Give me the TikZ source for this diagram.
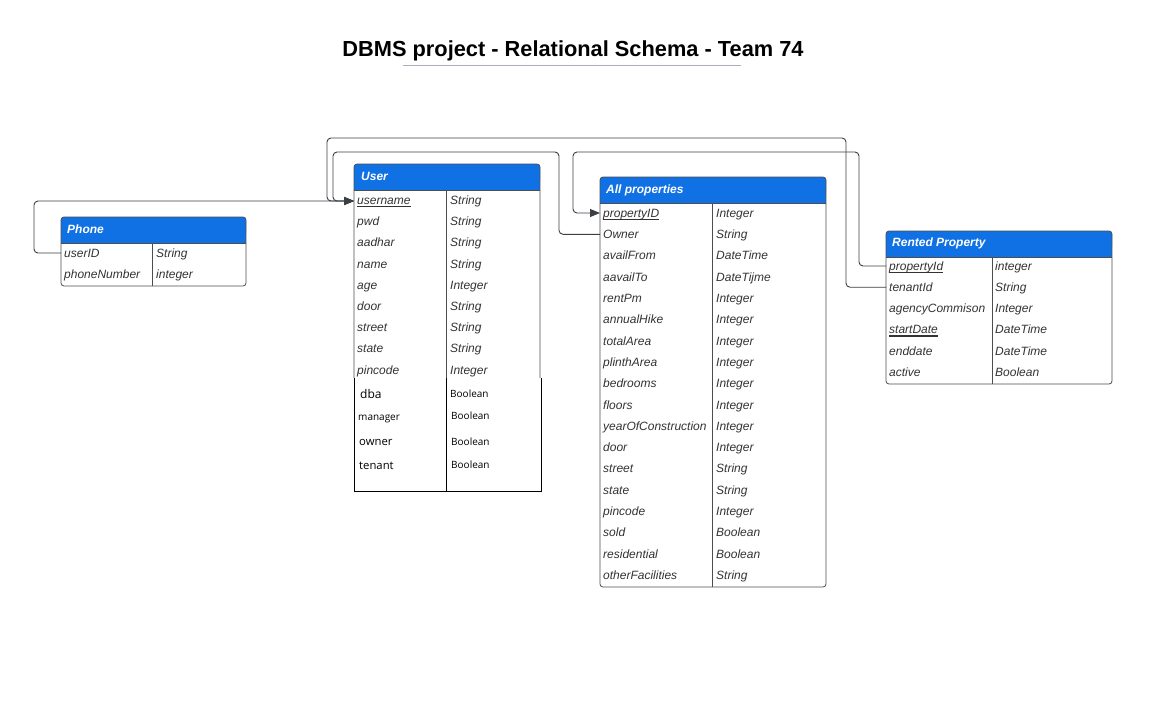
\documentclass[tikz,border=0pt]{standalone}
\usepackage{fontspec}
\setmainfont{Liberation Sans}
\newfontfamily\boolfont{Open Sans}
\usetikzlibrary{arrows.meta}
\definecolor{hdrblue}{HTML}{1071E5}
\definecolor{txt}{HTML}{333333}
\definecolor{bord}{HTML}{4D4D4D}
\definecolor{connc}{HTML}{3A3F46}
\definecolor{titleline}{HTML}{A9B0BC}
\tikzset{
  cell/.style={anchor=base west, inner sep=0pt, text=txt, font=\fontsize{12}{14}\selectfont\itshape},
  hdrtext/.style={anchor=base west, inner sep=0pt, text=white, font=\fontsize{12}{14}\selectfont\bfseries\itshape},
  rowbox/.style={anchor=west, inner sep=0pt, minimum height=21pt, draw=none},
  tblborder/.style={draw=bord, line width=0.8pt},
  conn/.style={draw=connc, line width=0.9pt, rounded corners=4pt},
  arr/.style={-{Triangle[length=10pt,width=8pt]}},
  ulin/.style={draw=txt, line width=1.3pt},
  boolt/.style={anchor=base west, inner sep=0pt, text=black},
}
\begin{document}
\begin{tikzpicture}[x=1pt,y=-1pt]
\useasboundingbox[fill=white] (0,0) rectangle (1160,721);

% Title
\node[anchor=base, inner sep=0pt, font=\fontsize{21.8}{24}\selectfont\bfseries] (title) at (573,56.5) {DBMS project - Relational Schema - Team 74};
\draw[titleline, line width=0.9pt] (403,65) -- (741,65);

% ---------- Phone ----------
\fill[hdrblue, rounded corners=3pt] (61,217) rectangle (246,236);
\fill[hdrblue] (61,230) rectangle (246,243);
\draw[tblborder, rounded corners=3pt] (61,217) rectangle (246,286);
\draw[tblborder] (61,243) -- (246,243) (152,243) -- (152,286);
\node[hdrtext] (phone-h) at (67,233.3) {Phone};
\foreach \n/\t [count=\i from 0] in {userID/String, phoneNumber/integer} {
  \node[rowbox, minimum width=185pt] (ph-\i) at (61,{253+21.2*\i}) {};
  \node[cell] (ph-\i-n) at (64,{257.3+21.2*\i}) {\n};
  \node[cell] (ph-\i-t) at (156,{257.3+21.2*\i}) {\t};
}

% ---------- User ----------
\fill[hdrblue, rounded corners=3pt] (354,164) rectangle (540,183);
\fill[hdrblue] (354,177) rectangle (540,190);
\draw[tblborder, rounded corners=3pt] (354,378) -- (354,164) -- (540,164) -- (540,378);
\draw[tblborder] (354,190) -- (540,190) (446,190) -- (446,378);
\draw[black, line width=0.9pt] (354,378) -- (354,491) -- (541,491) -- (541,378) (446,378) -- (446,491);
\node[hdrtext] (user-h) at (361,180.3) {User};
\foreach \n/\t [count=\i from 0] in {username/String, pwd/String, aadhar/String, name/String, age/Integer, door/String, street/String, state/String, pincode/Integer} {
  \node[rowbox, minimum width=186pt] (user-\i) at (354,{201+21.2*\i}) {};
  \node[cell] (user-\i-n) at (357,{204.5+21.2*\i}) {\n};
  \node[cell] (user-\i-t) at (450,{204.5+21.2*\i}) {\t};
}
\draw[ulin] ([yshift=-2.2pt]user-0-n.base west) -- ([yshift=-2.2pt]user-0-n.base east);
\node[boolt, font=\boolfont\fontsize{12}{14}\selectfont] (u-dba) at (360,398.5) {dba};
\node[boolt, font=\boolfont\fontsize{10}{12}\selectfont] (u-manager) at (358,420.5) {manager};
\node[boolt, font=\boolfont\fontsize{11.3}{13}\selectfont] (u-owner) at (359,445) {owner};
\node[boolt, font=\boolfont\fontsize{11.3}{13}\selectfont] (u-tenant) at (359,469) {tenant};
\node[boolt, font=\boolfont\fontsize{10}{12}\selectfont] (u-dba-t) at (450,397) {Boolean};
\node[boolt, font=\boolfont\fontsize{10}{12}\selectfont] (u-manager-t) at (451,419) {Boolean};
\node[boolt, font=\boolfont\fontsize{10}{12}\selectfont] (u-owner-t) at (451,445) {Boolean};
\node[boolt, font=\boolfont\fontsize{10}{12}\selectfont] (u-tenant-t) at (451,468) {Boolean};

% ---------- All properties ----------
\fill[hdrblue, rounded corners=3pt] (600,177) rectangle (826,196);
\fill[hdrblue] (600,190) rectangle (826,203);
\draw[tblborder, rounded corners=3pt] (600,177) rectangle (826,587);
\draw[tblborder] (600,203) -- (826,203) (712,203) -- (712,587);
\node[hdrtext] (prop-h) at (606,193.3) {All properties};
\foreach \n/\t [count=\i from 0] in {propertyID/Integer, Owner/String, availFrom/DateTime, aavailTo/DateTijme, rentPm/Integer, annualHike/Integer, totalArea/Integer, plinthArea/Integer, bedrooms/Integer, floors/Integer, yearOfConstruction/Integer, door/Integer, street/String, state/String, pincode/Integer, sold/Boolean, residential/Boolean, otherFacilities/String} {
  \node[rowbox, minimum width=226pt] (prop-\i) at (600,{213+21.3*\i}) {};
  \node[cell] (prop-\i-n) at (603,{217.3+21.3*\i}) {\n};
  \node[cell] (prop-\i-t) at (716,{217.3+21.3*\i}) {\t};
}
\draw[ulin] ([yshift=-2.2pt]prop-0-n.base west) -- ([yshift=-2.2pt]prop-0-n.base east);

% ---------- Rented Property ----------
\fill[hdrblue, rounded corners=3pt] (886,231) rectangle (1112,250);
\fill[hdrblue] (886,244) rectangle (1112,257);
\draw[tblborder, rounded corners=3pt] (886,231) rectangle (1112,384);
\draw[tblborder] (886,257) -- (1112,257) (992,257) -- (992,384);
\node[hdrtext] (rent-h) at (892,246.3) {Rented Property};
\foreach \n/\t [count=\i from 0] in {propertyId/integer, tenantId/String, agencyCommison/Integer, startDate/DateTime, enddate/DateTime, active/Boolean} {
  \node[rowbox, minimum width=226pt] (rent-\i) at (886,{266+21.2*\i}) {};
  \node[cell] (rent-\i-n) at (889,{270.3+21.2*\i}) {\n};
  \node[cell] (rent-\i-t) at (995,{270.3+21.2*\i}) {\t};
}
\draw[ulin] ([yshift=-2.2pt]rent-0-n.base west) -- ([yshift=-2.2pt]rent-0-n.base east);
\draw[ulin] ([yshift=-2.2pt]rent-3-n.base west) -- ([yshift=-2.2pt]rent-3-n.base east);

% ---------- Connectors ----------
\draw[conn, arr] (ph-0.west) -- ([xshift=-27pt]ph-0.west) |- (user-0.west);
\draw[conn, arr] (rent-1.west) -| (846,138) -| ([xshift=-27pt]user-0.west) -- (user-0.west);
\draw[conn, arr] (prop-1.west) -| (559,152) -| ([xshift=-21pt]user-0.west) -- (user-0.west);
\draw[conn, arr] (rent-0.west) -| (859,152) -| ([xshift=-27pt]prop-0.west) -- (prop-0.west);
\end{tikzpicture}
\end{document}
